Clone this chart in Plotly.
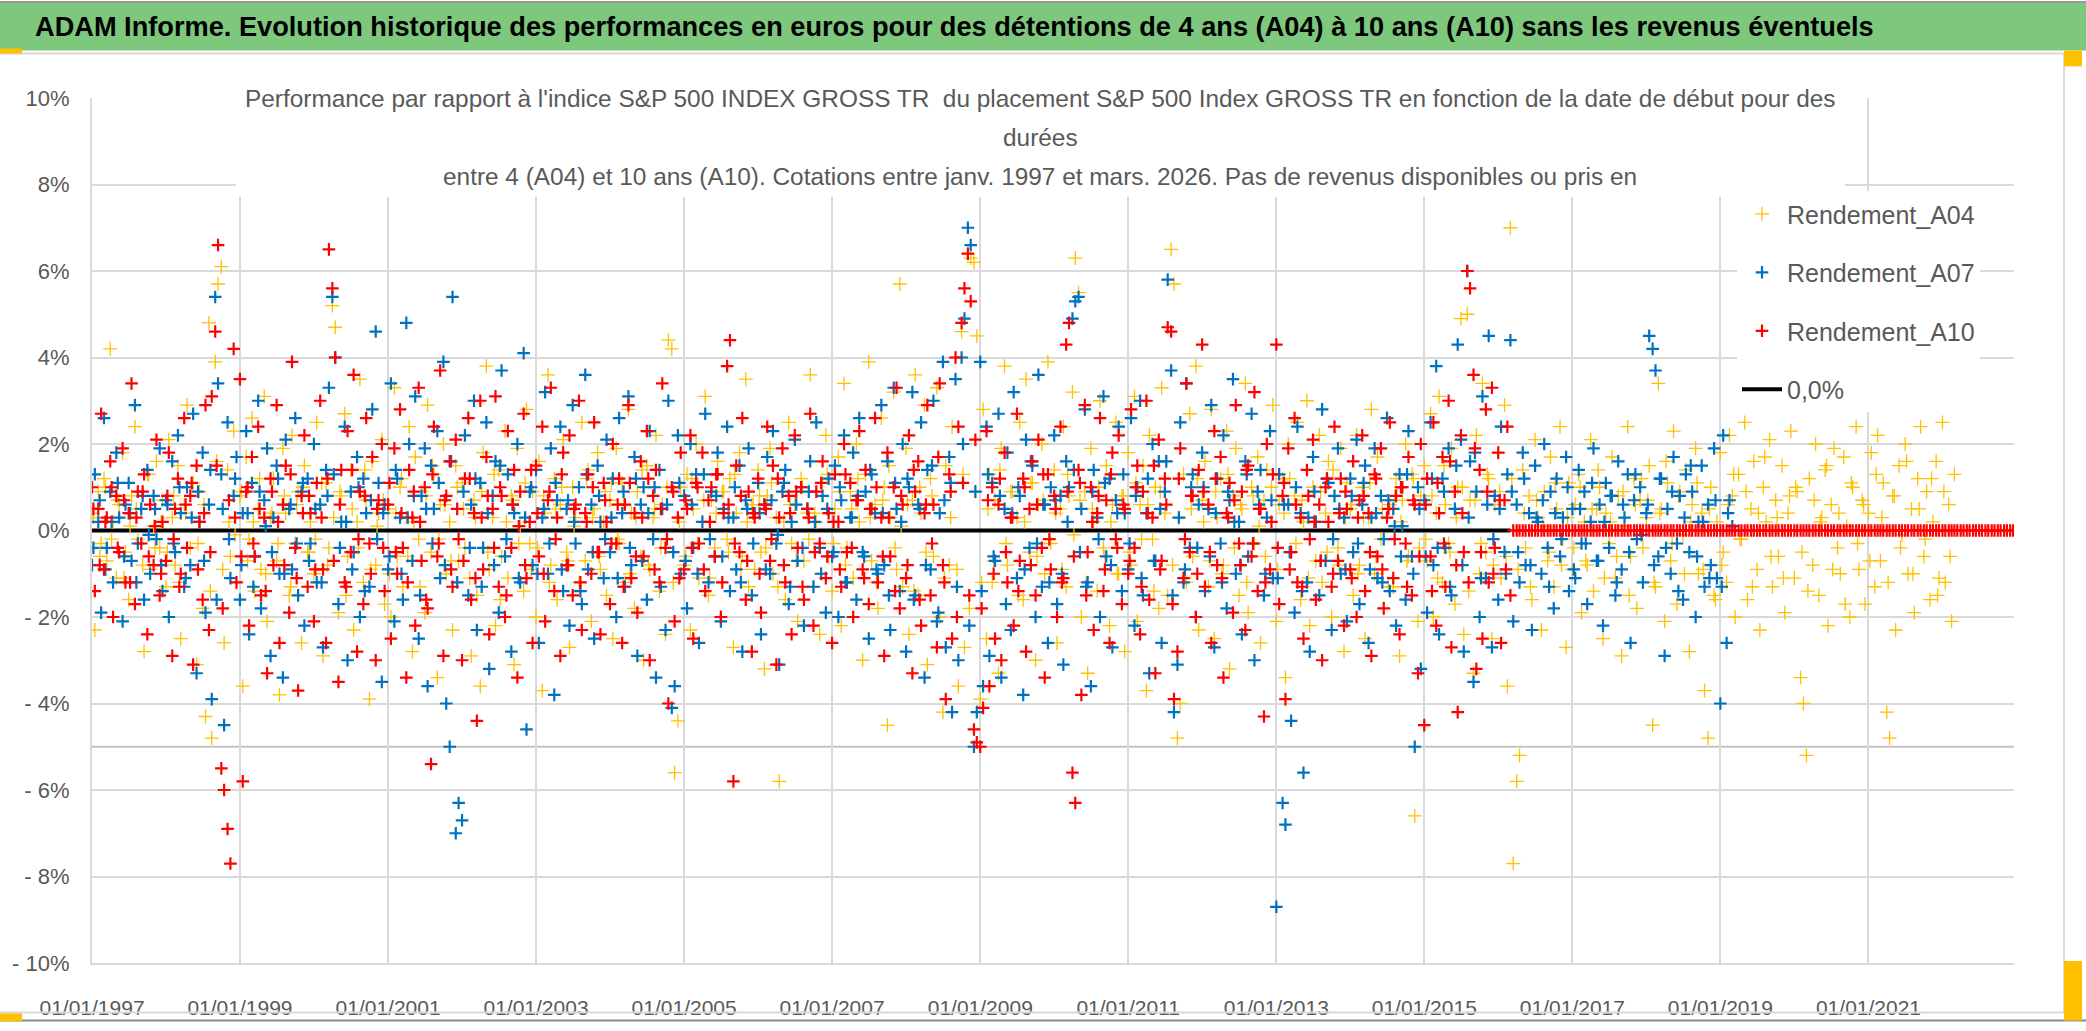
import pandas as pd
import plotly.graph_objects as go

# Relative performance (%) by start date.
# Main readings: 1st and 15th of each month; core readings: 8th of each month.
start_date = '1997-01-01'

rendement_a04 = [
    0.4, -2.3, 0.9, -0.3, 1.2, -0.7, 4.2, 0.2, -1.1, 0.6, 1.8, -0.5, -1.6, 0.8, 2.4, -0.2, 0.5, -2.8, 1.3, -0.9, 0.1, 1.6, -0.4, 0.7,  # 1997
    -1.3, 2.1, 0.3, -0.8, 1.5, -2.5, 0.6, 2.9, -0.4, 1.1, -3.1, 0.9, -1.8, -4.3, 4.8, -4.8, 3.9, 5.7, 6.1, -2.6, 1.4, -0.6, 2.3, -1.2,  # 1998
    0.8, -3.6, 1.7, -0.2, 2.6, -1.4, 0.5, -0.9, 3.1, -2.1, 0.3, 1.2, -0.7, -3.8, 1.9, 0.4, -1.5, 2.2, -0.3, 0.9, -2.6, 1.5, -0.5, 0.2,  # 1999
    -1.0, 2.5, 0.6, -2.9, 1.1, -0.4, 5.2, 4.7, -1.9, 0.8, 2.7, -0.6, 1.4, -2.3, 0.2, 3.5, -1.2, 0.7, -3.9, 1.6, -0.8, 0.4, 2.1, -1.7,  # 2000
    0.5, -2.0, 3.3, -0.6, 1.0, -1.3, 0.3, 2.4, -2.8, 1.7, -0.2, 0.9, -1.9, 2.9, -0.5, 1.3, -3.4, 0.6, 2.0, -1.0, 0.2, -2.3, 1.5, -0.7,  # 2001
    1.1, -0.4, 2.6, -2.9, 0.7, -1.5, -3.6, 1.8, 3.8, -0.9, 0.3, -2.2, 1.4, -0.6, 2.3, -1.1, 0.8, -3.1, 1.9, 0.1, -1.4, 2.8, -0.3, 0.9,  # 2002
    -2.0, 1.6, -3.7, 0.4, 3.6, -0.8, 1.2, -1.6, 0.6, 2.1, -0.5, -2.7, 1.0, 0.3, -1.2, 2.5, -0.7, 1.4, -2.1, 0.5, 1.8, -0.9, 0.2, -1.5,  # 2003
    0.7, -2.5, 1.9, -0.3, 1.1, -1.2, 2.8, 0.4, -1.8, 0.9, -0.6, -3.0, 1.5, -0.9, 0.3, 2.2, -1.4, 0.6, -2.4, 4.4, 4.2, -5.6, -4.4, 1.0,  # 2004
    -0.8, 1.3, -2.3, 0.5, 2.0, -1.1, 0.2, 3.1, -1.5, 0.7, -0.4, 1.6, -2.0, 0.9, -0.2, 1.2, -2.7, 0.4, 1.8, -0.6, 3.5, -1.3, 0.6, -0.9,  # 2005
    1.4, -0.5, -3.2, 0.8, 1.9, -1.0, 0.3, -5.8, 0.9, -1.6, 2.5, -0.3, 0.6, -2.1, 1.2, -0.7, 0.4, 3.6, -1.3, 0.2, -2.4, 1.1, 2.2, -0.6,  # 2006
    -1.4, 0.5, 1.7, -2.2, 3.4, -0.4, 0.9, -1.1, 2.0, 0.2, -3.0, 1.3, 3.9, -0.7, 0.6, -1.8, 2.6, 1.0, -4.5, 0.3, 3.2, -0.9, 5.7, -1.3,  # 2007
    1.9, -2.4, 0.7, 3.6, -1.5, 0.4, 2.9, -3.1, 1.2, -0.6, 3.3, -2.0, -4.2, 1.5, -0.8, 2.4, 4.0, -3.6, 4.6, -2.7, 6.4, 6.3, 6.2, 4.5,  # 2008
    -3.9, 2.8, -2.5, 1.3, -1.2, 0.7, -3.3, 1.9, 3.8, -0.8, 0.9, -2.2, 0.3, 2.5, -1.6, 3.5, -0.5, 1.1, -3.0, 0.6, 2.0, -1.0, 3.9, -0.3,  # 2009
    1.4, -2.6, 0.5, 2.4, -1.3, 0.8, 3.2, 6.3, 5.5, -2.0, 0.9, -3.3, 1.9, 0.2, -1.4, 3.0, -0.4, 1.5, -2.2, 0.6, 2.5, -1.0, 0.8, -2.8,  # 2010
    1.8, -0.8, 3.1, -2.1, 0.6, 1.5, -3.7, 2.2, -0.2, 1.0, -1.8, 3.3, 0.4, -1.5, 6.5, 5.7, -4.8, -4.0, 1.3, -1.2, 2.7, -0.6, 3.8, -2.3,  # 2011
    0.7, 1.6, -1.3, 2.8, -2.5, 0.3, 1.2, -0.8, 2.3, -3.2, 0.8, 1.9, -1.5, 0.5, 3.4, -1.9, 1.0, -0.3, 1.7, -2.6, 0.7, 1.4, -0.9, 2.9,  # 2012
    -2.1, 0.6, 1.2, -3.4, 2.0, -0.5, 0.8, 2.5, -1.6, 0.2, 3.0, -2.2, 1.0, -0.7, 2.2, -1.2, 0.4, 1.6, -2.0, 0.8, -0.4, 1.9, -2.8, 1.1,  # 2013
    0.5, -1.5, 2.2, -0.8, 1.0, -2.5, 0.3, 2.8, -1.0, 1.7, -0.2, -1.8, 2.6, 0.6, -1.3, 1.2, -2.9, 0.7, 2.0, -0.6, 1.3, -6.6, -2.1, 0.8,  # 2014
    1.5, -0.7, 2.7, -2.0, 0.4, 3.1, -1.2, 0.6, -0.3, 1.9, -1.7, 1.0, 4.9, -2.4, 5.0, 0.7, -3.3, 2.2, -1.0, 3.4, -0.5, 1.2, -2.5, 0.6,  # 2015
    1.8, -1.1, 2.9, -3.6, 7.0, -7.7, -5.8, -5.2, 1.4, -0.4, 0.8, -1.6, 2.1, 0.3, -2.3, 0.9, -0.7, 1.7, -1.3, 0.5, 2.4, -0.2, -2.7, 1.1,  # 2016
    -0.9, 0.6, 1.3, -1.9, 0.2, -0.8, 2.1, -1.4, 0.5, 1.0, -2.5, 0.4, -0.3, 1.7, -1.1, 0.8, -2.9, 0.1, 2.4, -0.6, 1.2, -1.8, 0.7, -0.4,  # 2017
    0.3, 1.5, -4.5, -1.3, 3.4, 0.5, -2.1, 1.1, -0.7, 2.3, -1.7, 0.9, -0.1, 1.4, -2.8, 0.6, 1.9, -1.0, 0.4, -3.7, -4.8, 1.0, -1.5, 0.2,  # 2018
    1.8, -0.5, -1.2, 2.2, 0.8, -2.0, 1.3, -0.2, 2.5, -1.6, 0.5, 1.6, -0.9, -2.3, 1.0, 0.2, 2.1, -1.3, 0.7, -0.6, 1.5, -1.9, 0.4, 2.3,  # 2019
    -1.1, 0.9, -3.4, -4.0, -5.2, 1.2, -0.8, 2.0, -1.5, 0.3, 1.4, -2.2, 0.6, 1.9, -0.4, -1.0, 1.7, 0.1, -2.0, 1.0, 2.4, -0.9, 0.7, -1.7,  # 2020
    0.4, 1.8, -1.3, 2.2, -0.7, 1.1, -4.2, -4.8, 0.8, -2.3, 1.5, -0.1, 2.0, -1.0, 0.5, -1.9, 1.2, 2.4, -0.6, 0.9, -1.6, 0.2, 1.6, -1.1,  # 2021
    2.5, -1.2, 0.6, -2.1, 1.3,  # 2022
]
rendement_a04_core = [
    0.3, -0.6, 1.0, -0.2, 0.7, -1.1, 0.1, 0.5, -0.8, 1.3, -0.4, 0.2,  # 1997
    -0.5, 0.8, -1.2, 0.4, 1.1, -0.3, 0.6, -1.4, 1.6, -0.9, 0.2, -0.1,  # 1998
    0.9, -0.7, 0.2, 1.2, -1.0, 0.4, -0.3, 0.8, -1.3, 0.6, 1.0, -0.5,  # 1999
    -0.2, 1.1, -0.8, 0.3, 0.9, -1.5, 0.5, -0.4, 1.4, -0.9, 0.1, 0.7,  # 2000
    -1.0, 0.4, 1.2, -0.6, 0.2, -1.3, 0.8, 1.5, -0.2, 0.6, -0.7, 1.0,  # 2001
    0.5, -1.1, 0.3, 0.9, -0.5, 1.3, -1.6, 0.2, 0.7, -0.3, 1.1, -0.9,  # 2002
    -0.4, 0.8, -1.2, 0.5, 1.0, -0.7, 0.1, -1.4, 1.2, 0.3, -0.6, 0.9,  # 2003
    1.1, -0.2, 0.6, -1.0, 0.3, 1.4, -0.8, 0.5, -0.4, 1.0, -1.2, 0.2,  # 2004
    -0.6, 1.2, -0.3, 0.7, -1.1, 0.4, 0.9, -0.5, 1.3, -0.9, 0.2, 0.6,  # 2005
    0.8, -0.4, 1.1, -1.3, 0.2, 0.6, -0.7, 1.0, -0.2, 0.4, -1.0, 1.3,  # 2006
    -0.3, 0.9, -0.8, 0.5, 1.2, -0.6, 0.3, -1.2, 0.7, 1.5, -0.4, 0.1,  # 2007
    0.6, -1.4, 1.0, -0.5, 0.8, 1.7, -1.1, 0.3, -0.9, 1.3, -1.8, 0.9,  # 2008
    -1.2, 0.5, -0.7, 1.4, -0.3, 0.9, -1.5, 0.2, 1.1, -0.6, 0.7, -0.2,  # 2009
    0.4, -0.9, 1.3, -0.1, 0.7, -1.2, 0.5, 1.0, -0.6, 0.2, -1.0, 0.8,  # 2010
    -0.5, 1.1, -0.2, 0.6, -1.4, 0.9, 1.6, -0.8, 0.3, -1.1, 0.5, 1.2,  # 2011
    0.2, -0.7, 0.9, -1.0, 1.3, -0.4, 0.6, -1.2, 0.8, 0.1, -0.6, 1.0,  # 2012
    -0.9, 0.4, 1.2, -0.3, 0.7, -1.1, 0.2, 0.9, -0.5, 1.4, -0.8, 0.3,  # 2013
    0.6, -1.0, 0.3, 1.1, -0.6, 0.5, -1.3, 0.8, 0.2, -0.7, 1.2, -0.4,  # 2014
    -0.2, 0.8, -1.1, 1.5, -0.5, 0.3, 1.0, -1.4, 0.7, -0.3, 1.3, -0.8,  # 2015
    0.9, -0.6, 1.2, -0.9, 0.4, -1.3, 0.7, 0.1, -0.5, 1.1, -0.8, 0.3,  # 2016
    -0.4, 1.0, -0.7, 0.5, 1.4, -1.1, 0.2, -0.6, 0.9, -1.5, 0.6, 1.2,  # 2017
    0.7, -1.2, 0.4, 1.6, -0.3, 0.8, -1.0, 0.2, 1.1, -0.9, 0.5, -1.6,  # 2018
    -0.8, 0.6, 1.3, -0.2, 0.9, -1.3, 0.4, 1.7, -0.6, 0.3, -1.1, 0.8,  # 2019
    1.0, -0.5, -1.4, 0.7, 0.2, 1.5, -0.9, 0.4, -1.7, 1.1, -0.3, 0.6,  # 2020
    -0.7, 1.3, 0.3, -1.2, 0.8, -0.4, 1.6, -1.0, 0.5, -0.2, 1.2, -1.5,  # 2021
    0.9, -0.6,  # 2022
]

rendement_a07 = [
    -0.8, 1.3, 0.2, -1.9, 2.6, -0.4, 0.9, -1.2, 1.8, 0.3, -2.1, 0.6, 1.1, -0.7, 2.9, -0.3, 0.5, -1.6, 1.4, -1.0, 0.8, -0.2, 1.9, -1.4,  # 1997
    0.7, -2.0, 1.6, -0.5, 2.2, 0.4, -1.3, 1.0, -0.8, 2.7, -3.3, 0.2, 1.8, -1.9, 0.6, -3.9, 5.4, 3.4, 1.3, -4.5, 2.5, -1.1, 0.8, 1.7,  # 1998
    -1.6, 0.4, 2.3, -2.4, 1.1, -0.6, 3.0, -1.8, 0.7, 1.9, -2.9, 0.3, 1.5, -1.0, -3.4, 2.1, 0.5, -0.9, 2.6, -1.5, 0.9, -2.2, 1.2, -0.3,  # 1999
    2.0, -1.2, 0.6, -2.7, 1.4, 3.3, 5.4, 4.0, -1.7, 0.2, 2.4, -3.0, 0.9, -0.5, 1.7, -2.0, 1.2, 0.4, -1.3, 2.8, 4.6, 1.1, -3.5, 0.6,  # 2000
    -0.9, 3.4, -2.1, 1.2, 0.3, -1.6, 4.8, 2.0, -0.7, 3.1, -2.5, 0.8, 1.9, -3.6, 1.5, 0.5, 2.3, -1.1, 3.9, -4.0, -5.0, 5.4, -7.0, -6.3,  # 2001
    -6.7, 2.2, -1.5, 0.6, 3.0, -2.3, 1.1, -0.4, 2.5, -3.2, 0.8, 1.6, -1.9, 3.7, -0.6, 1.3, -2.8, 0.4, 2.0, -1.2, 4.1, -4.6, 0.9, -0.8,  # 2002
    1.4, -2.6, 0.3, 3.2, -1.0, 1.9, -3.8, 0.7, 2.4, -1.4, 0.5, -2.2, 2.9, -0.3, 1.0, -1.7, 3.6, -0.9, 0.6, -2.5, 1.5, 0.2, -1.1, 2.1,  # 2003
    -0.5, 1.2, -2.0, 2.6, 0.4, -1.3, 3.1, -0.8, 1.7, -2.9, 0.6, 1.0, -1.6, 2.3, -0.2, -3.4, 1.4, 0.5, -2.3, 3.0, -4.1, -3.6, 2.2, -1.0,  # 2004
    0.8, -1.8, 2.0, -0.4, 1.3, -2.6, 0.2, 2.7, -1.2, 0.9, -0.6, 1.8, -2.1, 0.5, 2.4, -1.4, 0.3, -0.9, 1.5, -2.8, 0.7, 1.9, -1.5, 0.4,  # 2005
    1.1, -2.4, 0.6, 1.7, -1.0, 2.3, -0.3, -3.1, 0.9, 1.4, -1.7, 0.2, 2.1, -0.7, 1.0, -2.2, 0.5, 1.6, -1.3, 2.5, -0.4, 0.8, -1.9, 1.2,  # 2006
    -0.6, 1.5, -2.0, 0.7, 2.2, -1.2, 0.3, 1.8, -1.6, 2.6, -0.5, 0.9, -2.5, 1.3, 0.4, -1.0, 2.9, -0.8, 1.6, -2.3, 3.3, 0.5, -1.4, 2.0,  # 2007
    -2.8, 1.0, 3.2, -1.5, 0.6, 2.5, -3.4, 1.4, -0.9, 3.0, -2.1, 0.4, 3.9, -2.7, 1.7, -4.2, 3.5, -3.0, 4.0, 4.9, 7.0, 6.6, -5.0, -4.2,  # 2008
    3.9, -3.6, 2.4, -2.9, 1.1, -0.7, 2.7, -3.4, 0.5, 1.8, -2.3, 3.2, -1.1, 0.8, -3.8, 2.1, -0.4, 1.5, -2.0, 3.6, -1.3, 0.6, -2.6, 1.0,  # 2009
    2.2, -1.7, 0.8, -3.1, 1.6, 1.0, 4.9, 5.3, 5.4, 0.5, 2.8, -1.2, -3.6, 1.4, 0.3, -2.0, 3.1, -0.6, 1.2, -2.7, 0.7, 2.4, -1.4, 0.4,  # 2010
    -0.9, 2.6, -2.2, 1.0, 3.0, -1.5, 0.4, -3.3, 2.0, -0.7, 1.6, -2.6, 0.9, 5.8, 3.7, -4.2, -3.1, 2.5, -1.2, 3.4, -0.4, 1.3, -2.0, 0.6,  # 2011
    1.8, -1.4, 0.5, 2.9, -2.7, 1.2, -0.3, 2.2, -1.8, 0.7, 3.5, -1.0, 0.2, -2.4, 1.6, -0.6, 2.7, -3.0, 0.9, 1.4, -1.5, 0.3, 2.3, -1.1,  # 2012
    -8.7, 1.3, -6.3, -6.8, 0.6, -4.4, -1.9, 2.4, 0.4, -5.6, -1.2, -2.8, 1.7, 0.2, -1.5, 2.8, -0.7, 1.1, -2.3, 0.8, 1.9, -1.0, 0.3, -2.1,  # 2013
    1.2, -0.5, 2.1, -1.7, 0.6, 1.5, -2.6, 0.3, 1.9, -1.1, 0.8, -0.2, 2.6, -1.4, 0.5, -2.2, 1.3, 0.1, -1.6, 2.3, -0.6, -5.0, 1.0, -3.2,  # 2014
    0.7, -1.9, 2.5, -0.8, 3.8, -2.4, 1.2, -0.4, 1.9, -1.5, 0.5, 4.3, 2.1, -2.8, 6.0, 1.6, -3.5, 0.9, -2.0, 3.1, -1.1, 4.5, -2.7, 0.8,  # 2015
    -1.6, 2.4, -0.5, 1.3, 4.4, -2.1, 0.6, -1.2, 1.8, -0.8, 0.4, -2.3, 1.5, 0.2, -1.0, 2.0, -0.4, 0.9, -1.8, 1.2, -0.6, 0.3, 1.7, -1.4,  # 2016
    0.5, -1.1, 1.4, -0.3, 0.9, -1.7, 0.2, 1.9, -0.7, 0.6, -2.2, 1.1, -0.4, 0.8, -1.5, 1.6, -0.9, 0.3, 1.3, -2.6, 0.7, -0.2, 1.0, -1.2,  # 2017
    0.4, 4.5, 4.2, 3.7, -0.6, 1.2, -2.9, 0.5, -1.0, 1.7, -0.3, 0.8, -1.6, 1.3, -0.5, 0.9, -2.0, 0.2, 1.5, -1.3, 0.6, -0.8, 1.9, -1.1,  # 2018
    -4.0, 2.2, -2.6, 0.7, 0.1,  # 2019
]
rendement_a07_core = [
    -0.4, 0.7, -0.9, 0.2, 1.1, -0.6, 0.4, -1.2, 0.8, -0.1, 0.5, -0.8,  # 1997
    0.6, -0.3, 1.0, -1.1, 0.3, 0.9, -0.7, 1.4, -1.6, 0.5, -0.2, 1.2,  # 1998
    -0.8, 0.4, -1.3, 0.9, 0.1, -0.5, 1.2, -1.0, 0.6, -0.3, 1.1, -0.7,  # 1999
    0.5, -1.2, 0.8, 1.3, -0.4, 0.2, -0.9, 1.0, -1.4, 0.7, -0.2, 0.4,  # 2000
    -0.6, 1.4, -1.0, 0.3, 0.8, -1.5, 0.5, -0.3, 1.1, -0.8, 1.6, -1.2,  # 2001
    0.9, -0.4, 1.2, -1.3, 0.4, -0.8, 1.5, -0.2, 0.6, -1.1, 0.3, 1.0,  # 2002
    -1.0, 0.5, -0.3, 1.1, -0.9, 0.7, 0.2, -1.4, 1.3, -0.5, 0.8, -0.2,  # 2003
    0.3, -1.1, 0.9, -0.4, 1.2, -0.7, 0.4, 1.0, -1.3, 0.6, -0.5, 1.1,  # 2004
    -0.7, 0.6, -1.0, 1.3, -0.2, 0.8, -0.6, 0.3, 1.0, -1.2, 0.5, -0.3,  # 2005
    0.4, -0.9, 0.7, -0.1, 1.1, -1.3, 0.6, -0.4, 0.9, 0.2, -1.0, 0.5,  # 2006
    -0.5, 1.0, -1.2, 0.3, 0.8, -0.6, 1.4, -0.9, 0.4, -1.5, 1.1, 0.2,  # 2007
    1.2, -1.6, 0.5, -0.8, 1.5, -1.9, 0.7, 1.1, -1.3, 2.0, -2.2, 0.9,  # 2008
    -1.4, 1.3, -0.6, 0.8, -1.7, 0.4, 1.0, -0.9, 1.6, -0.3, 0.6, -1.2,  # 2009
    0.7, -1.0, 0.2, 1.4, -0.5, -1.3, 0.9, -0.2, 1.1, -0.8, 0.4, 1.3,  # 2010
    -0.3, 0.8, -1.1, 1.2, -0.7, 0.5, 1.6, -1.5, 0.3, -0.9, 1.0, -0.4,  # 2011
    1.0, -0.6, 0.4, -1.2, 0.9, 0.2, -0.8, 1.3, -0.3, 0.6, -1.0, 0.7,  # 2012
    -1.1, 0.6, -0.5, 1.0, -1.4, 0.3, 0.9, -0.7, 1.2, -0.2, 0.5, -0.9,  # 2013
    0.8, -0.3, 1.1, -0.9, 0.4, -1.2, 0.7, 0.1, -0.6, 1.3, -1.0, 0.5,  # 2014
    -0.6, 1.2, -0.4, 0.9, -1.3, 1.5, -0.8, 0.3, 1.8, -1.1, 0.6, -0.2,  # 2015
    0.5, -1.0, 0.9, -0.5, 1.2, -0.8, 0.3, 0.7, -1.3, 0.4, -0.2, 1.0,  # 2016
    -0.9, 0.5, -0.3, 1.1, -0.7, 0.2, 0.8, -1.2, 0.6, -0.5, 1.3, -0.1,  # 2017
    0.6, -0.8, 1.2, -0.4, 0.9, -1.4, 0.3, 1.5, -0.6, 0.2, -1.1, 0.7,  # 2018
    -1.3, 0.4,  # 2019
]

rendement_a10 = [
    1.0, -1.4, 0.5, 2.7, -0.9, 0.3, 1.6, -2.0, 0.8, -0.5, 1.9, -1.2, 0.4, 3.4, -1.7, 0.9, -0.3, 1.3, -2.4, 0.6, -0.8, 2.1, -1.5, 0.2,  # 1997
    -0.7, 1.8, -2.9, 0.5, 1.2, -1.0, 2.6, -0.4, 0.8, -3.1, 1.5, 0.2, -1.6, 2.9, -2.3, 3.1, 4.6, 6.6, -5.5, -6.0, -6.9, -7.7, 4.2, -1.2,  # 1998
    3.5, -5.8, 0.9, -2.2, 1.7, -0.6, 2.4, -1.5, 0.3, -3.3, 1.2, -0.8, 2.9, -2.6, 0.6, 1.5, -1.9, 3.9, -0.4, -3.7, 0.8, 2.2, -1.3, 0.4,  # 1999
    -2.1, 1.1, 3.0, -0.9, -2.6, 6.5, 5.6, 4.0, -3.5, 1.4, -1.2, 2.3, -0.5, 3.6, -2.8, 0.9, -1.7, 2.6, -0.3, 1.7, -3.0, 0.7, 2.0, -1.4,  # 2000
    0.6, -2.5, 1.9, -1.0, 2.8, -0.4, -3.4, 1.4, 0.3, -2.2, 3.3, -0.7, 1.0, -1.8, -5.4, 2.4, -0.6, 3.7, -2.9, 0.8, 1.6, -1.3, 2.1, -0.2,  # 2001
    -3.0, 1.2, 2.6, -1.6, 0.4, -4.4, 3.0, -0.9, 1.7, -2.4, 0.5, 3.1, -1.3, 0.8, -2.0, 2.3, -0.4, 1.4, -3.4, 0.9, 2.7, -1.1, 0.2, -2.6,  # 2002
    1.5, -0.6, 2.4, -2.1, 0.7, 3.3, -1.4, 0.3, -2.9, 1.8, -0.8, 2.2, -1.5, 0.6, 3.0, -2.3, 0.4, 1.3, -1.0, 2.5, -0.5, -2.4, 1.1, 0.2,  # 2003
    -1.7, 2.0, -0.3, 1.2, -2.6, 0.6, 2.9, -1.1, 0.4, -1.9, 1.6, -0.6, 2.3, -3.0, 0.8, 1.4, -1.2, 3.4, -0.4, -4.0, 1.0, -2.1, 0.3, 1.8,  # 2004
    -0.9, 0.5, 2.2, -2.5, 1.1, -0.3, 1.8, -1.4, 0.7, 1.0, -0.6, 1.3, -2.0, 0.4, 3.8, 4.4, -5.8, 1.5, -0.5, 2.6, -1.6, 0.9, -2.8, 0.3,  # 2005
    1.2, -1.9, 0.6, 2.4, -0.7, 1.5, -3.1, 0.3, 1.9, -1.2, 0.8, -2.4, 2.2, -0.4, 1.0, -1.6, 0.5, 2.7, -2.2, 0.9, -0.3, 1.6, -1.1, 0.4,  # 2006
    -2.6, 1.3, 0.2, -1.3, 2.0, -0.5, 1.1, -2.0, 0.7, 2.3, -0.9, 1.4, -1.7, 0.5, 2.6, -1.2, 0.3, -2.9, 1.8, -0.6, 1.0, 3.3, -1.8, 0.6,  # 2007
    -1.1, 2.2, -3.3, 0.9, 1.6, -2.2, 0.4, 2.9, -1.5, 0.6, -2.7, 3.4, -0.8, -3.9, 1.3, -2.5, 4.0, 2.4, 4.8, 5.6, 6.4, 5.3, -4.6, -4.9,  # 2008
    -5.0, -4.1, 2.3, -3.6, 1.0, -2.5, 0.6, -3.0, 1.8, -1.2, 0.3, -2.2, 2.7, -0.7, 1.2, -2.8, 0.5, 1.6, -1.5, 2.1, -0.4, -3.4, 1.3, -0.9,  # 2009
    0.8, -2.0, 2.4, -1.1, 4.3, 4.8, -5.6, -6.3, 1.4, -3.8, 2.9, -0.5, 1.0, -2.3, 0.4, 2.6, -1.4, 0.7, -2.6, 1.8, -0.2, 2.2, -1.7, 0.5,  # 2010
    -1.0, 2.8, -0.4, 1.5, -2.4, 0.9, 3.0, -1.6, 0.3, -3.3, 2.1, -0.7, 1.2, 4.7, 4.6, -3.9, -2.8, 1.9, -1.1, 3.4, -0.5, 0.8, -2.0, 1.4,  # 2011
    4.3, -1.3, 0.6, -2.6, 2.3, -0.8, 1.7, -3.4, 0.4, 1.1, -1.9, 2.9, -0.3, 0.9, -2.3, 1.5, -0.6, 3.2, -1.4, 0.5, -4.3, 2.0, -0.9, 1.3,  # 2012
    4.3, -1.7, 0.8, -3.9, 1.9, -0.5, 2.6, -1.2, 0.3, -2.5, 1.4, -0.2, 2.1, -1.6, 0.6, -3.0, 1.0, 0.2, -1.3, 2.4, -0.7, 1.2, -2.2, 0.5,  # 2013
    -0.9, 1.6, -2.0, 0.7, 2.2, -1.4, 0.4, -2.9, 1.3, -0.6, 1.9, -1.8, 0.3, 2.5, -1.1, 0.8, -2.4, 1.0, -0.3, 1.7, -1.5, 0.6, -3.3, 2.0,  # 2014
    -4.5, 1.2, -0.6, 2.5, -2.2, 0.4, 1.7, -1.3, 3.0, -2.7, 0.9, -4.2, 2.2, -0.5, 6.0, 5.6, 3.6, -3.2, 1.4, -2.5, 2.8, -1.2, 3.3, -0.4,  # 2015
    1.8, -2.6, 0.7, 2.4, -1.5, 0, 0, 0, 0, 0, 0, 0, 0, 0, 0, 0, 0, 0, 0, 0, 0, 0, 0, 0,  # 2016
    0, 0, 0, 0, 0, 0, 0, 0, 0, 0, 0, 0, 0, 0, 0, 0, 0, 0, 0, 0, 0, 0, 0, 0,  # 2017
    0, 0, 0, 0, 0, 0, 0, 0, 0, 0, 0, 0, 0, 0, 0, 0, 0, 0, 0, 0, 0, 0, 0, 0,  # 2018
    0, 0, 0, 0, 0, 0, 0, 0, 0, 0, 0, 0, 0, 0, 0, 0, 0, 0, 0, 0, 0, 0, 0, 0,  # 2019
    0, 0, 0, 0, 0, 0, 0, 0, 0, 0, 0, 0, 0, 0, 0, 0, 0, 0, 0, 0, 0, 0, 0, 0,  # 2020
    0, 0, 0, 0, 0, 0, 0, 0, 0, 0, 0, 0, 0, 0, 0, 0, 0, 0, 0, 0, 0, 0, 0, 0,  # 2021
    0, 0, 0, 0, 0, 0, 0, 0, 0, 0, 0, 0, 0, 0, 0, 0, 0, 0, 0, 0, 0, 0, 0, 0,  # 2022
]
rendement_a10_core = [
    0.5, -0.8, 0.2, 1.0, -0.4, 0.7, -1.2, 0.3, 0.9, -0.6, 0.1, -1.0,  # 1997
    0.8, -0.2, -1.3, 0.6, 1.1, -0.9, 0.4, -0.5, 1.5, -1.8, 0.7, 0.3,  # 1998
    -0.6, 1.0, -0.3, 0.5, -1.4, 0.9, 0.2, -0.8, 1.3, -1.1, 0.4, 0.8,  # 1999
    -0.9, 0.3, 1.2, -0.7, 0.6, -1.3, 1.4, -0.2, 0.8, -1.0, 0.5, -0.4,  # 2000
    1.1, -0.5, 0.4, -1.2, 0.9, 0.2, -1.6, 1.3, -0.3, 0.7, -0.9, 0.5,  # 2001
    -0.7, 1.2, -1.1, 0.3, 0.8, -0.4, 1.0, -1.5, 0.6, 0.1, -0.8, 1.4,  # 2002
    0.4, -1.0, 0.9, -0.2, 1.3, -0.8, 0.5, -1.2, 0.2, 1.0, -0.5, 0.7,  # 2003
    -0.3, 0.6, -1.3, 1.1, -0.6, 0.3, 1.2, -0.9, 0.5, -0.2, 0.9, -1.1,  # 2004
    0.7, -0.4, 1.0, -0.9, 0.2, 1.3, -1.2, 0.6, -0.3, 0.8, -0.7, 0.4,  # 2005
    -1.0, 0.5, -0.2, 1.2, -0.8, 0.4, 0.9, -1.3, 0.3, -0.5, 1.1, -0.6,  # 2006
    0.2, -0.9, 1.3, -0.4, 0.7, -1.1, 0.5, 1.0, -0.6, 0.3, -1.4, 0.8,  # 2007
    -0.8, 1.4, -1.6, 0.6, -0.3, 1.7, -1.2, 0.9, -2.0, 1.1, -1.5, 2.1,  # 2008
    -1.8, 0.7, -1.0, 1.2, -0.5, 0.3, -1.4, 1.0, -0.8, 0.6, 1.3, -0.2,  # 2009
    0.5, -1.2, 0.9, -0.6, 1.1, -1.5, 0.2, 0.8, -0.9, 1.3, -0.4, 0.6,  # 2010
    -0.7, 1.0, -1.3, 0.4, 1.5, -0.9, 0.6, -1.7, 1.2, -0.2, 0.8, -1.0,  # 2011
    0.9, -0.5, 1.2, -1.1, 0.3, 0.7, -0.8, 1.4, -0.3, 0.5, -1.2, 0.2,  # 2012
    -0.4, 1.1, -0.9, 0.6, -1.3, 0.8, 0.2, -0.7, 1.2, -1.0, 0.4, 0.9,  # 2013
    -1.1, 0.3, 0.8, -0.5, 1.2, -0.9, 0.5, -0.2, 1.0, -1.3, 0.7, -0.6,  # 2014
    0.6, -1.4, 1.1, -0.3, 1.6, -0.8, 0.4, -1.2, 1.9, -0.5, 0.9, -1.0,  # 2015
    0.7, -0.9,  # 2016
]

zero_line_dates = ['1997-01-01', '2016-03-01']
zero_line_values = [0.0, 0.0]

y_ticks = [10, 8, 6, 4, 2, 0, -2, -4, -6, -8, -10]
y_tick_labels = ['10%', '8%', '6%', '4%', '2%', '0%', '- 2%', '- 4%', '- 6%', '- 8%', '- 10%']

series_names = ['Rendement_A04', 'Rendement_A07', 'Rendement_A10', '0,0%']

banner_text = ("ADAM Informe. Evolution historique des performances en euros pour des "
               "détentions de 4 ans (A04) à 10 ans (A10) sans les revenus éventuels")
subtitle_lines = [
    "Performance par rapport à l'indice S&P 500 INDEX GROSS TR  du placement S&P 500 Index GROSS TR "
    "en fonction de la date de début pour des",
    "durées",
    "entre 4 (A04) et 10 ans (A10). Cotations entre janv. 1997 et mars. 2026. "
    "Pas de revenus disponibles ou pris en",
]

# Page geometry (pixels)
W, H = 2086, 1031
M_L, M_R, M_T, M_B = 92, 72, 98, 59
FONT = 'Liberation Sans, Arial, sans-serif'
GREY_TXT = '#595959'
GRID = '#d9d9d9'


def px_x(px):
    return (px - M_L) / (W - M_L - M_R)


def px_y(py):
    return (H - M_B - py) / (H - M_T - M_B)


def series_xy(values, core):
    # 1st/15th readings followed by the 8th-of-month readings
    d_main = pd.date_range(start_date, periods=len(values), freq='SMS')
    d_core = pd.date_range(start_date, periods=len(core), freq='MS') + pd.Timedelta(days=7)
    return list(d_main) + list(d_core), list(values) + list(core)


fig = go.Figure()

# the 0 % reference line sits under the markers, but comes last in the legend
fig.add_trace(go.Scatter(
    x=pd.to_datetime(zero_line_dates), y=zero_line_values, mode='lines',
    name=series_names[3], legendgroup=series_names[3], legendrank=4,
    line=dict(color='black', width=4),
))

styles = [
    (rendement_a04, rendement_a04_core, '#FFC000', 10, 1.3),
    (rendement_a07, rendement_a07_core, '#0070C0', 9, 2.2),
    (rendement_a10, rendement_a10_core, '#FF0000', 9, 2.2),
]
for rank, ((values, core, color, size, lw), name) in enumerate(zip(styles, series_names), start=1):
    xs, ys = series_xy(values, core)
    fig.add_trace(go.Scatter(
        x=xs, y=ys, mode='markers', name=name, legendgroup=name, legendrank=rank,
        marker=dict(symbol='cross-thin', size=size, color=color,
                    line=dict(width=lw, color=color)),
    ))

shapes = [
    # green banner and frame
    dict(type='rect', xref='paper', yref='paper', x0=px_x(0), x1=px_x(W), y0=px_y(0), y1=px_y(50),
         fillcolor='#7DC87D', line=dict(width=0), layer='above'),
    dict(type='line', xref='paper', yref='paper', x0=px_x(0), x1=px_x(W), y0=px_y(1), y1=px_y(1),
         line=dict(color='#9a9a9a', width=2), layer='above'),
    dict(type='line', xref='paper', yref='paper', x0=px_x(0), x1=px_x(2064), y0=px_y(53), y1=px_y(53),
         line=dict(color=GRID, width=2), layer='above'),
    dict(type='line', xref='paper', yref='paper', x0=px_x(2064), x1=px_x(2064), y0=px_y(53), y1=px_y(1022),
         line=dict(color=GRID, width=2), layer='above'),
    dict(type='line', xref='paper', yref='paper', x0=px_x(0), x1=px_x(2064), y0=px_y(1022), y1=px_y(1022),
         line=dict(color=GRID, width=2), layer='above'),
    dict(type='line', xref='paper', yref='paper', x0=px_x(0), x1=px_x(W), y0=px_y(1030), y1=px_y(1030),
         line=dict(color='#8a8a8a', width=2), layer='above'),
    # selection handles
    dict(type='rect', xref='paper', yref='paper', x0=px_x(0), x1=px_x(22), y0=px_y(48), y1=px_y(53),
         fillcolor='#FFC000', line=dict(width=0), layer='above'),
    dict(type='rect', xref='paper', yref='paper', x0=px_x(2064), x1=px_x(2082), y0=px_y(50), y1=px_y(66),
         fillcolor='#FFC000', line=dict(width=0), layer='above'),
    dict(type='rect', xref='paper', yref='paper', x0=px_x(2064), x1=px_x(2082), y0=px_y(970), y1=px_y(1030),
         fillcolor='#FFC000', line=dict(width=0), layer='above'),
    dict(type='rect', xref='paper', yref='paper', x0=px_x(0), x1=px_x(22), y0=px_y(1023), y1=px_y(1031),
         fillcolor='#FFC000', line=dict(width=0), layer='above'),
    # white boxes behind the chart title and the legend
    dict(type='rect', xref='paper', yref='paper', x0=px_x(236), x1=px_x(1845), y0=px_y(75), y1=px_y(198),
         fillcolor='white', line=dict(width=0), layer='above'),
    dict(type='rect', xref='paper', yref='paper', x0=px_x(1702), x1=1, y0=px_y(180), y1=px_y(422),
         fillcolor='white', line=dict(width=0), layer='between'),
    # extra horizontal line at -5 %
    dict(type='line', xref='paper', yref='y', x0=0, x1=1, y0=-5, y1=-5,
         line=dict(color='#c4c4c4', width=2), layer='between'),
]

annotations = [
    dict(text=banner_text, xref='paper', yref='paper', x=px_x(33), y=px_y(26),
         xanchor='left', yanchor='middle', showarrow=False,
         font=dict(family=FONT, size=27.2, color='black', weight='bold')),
]
for line, py in zip(subtitle_lines, [98, 138, 177]):
    annotations.append(dict(text=line, xref='paper', yref='paper', x=px_x(1040), y=px_y(py),
                            xanchor='center', yanchor='middle', showarrow=False,
                            font=dict(family=FONT, size=24.4, color=GREY_TXT)))

fig.update_layout(
    width=W, height=H,
    margin=dict(l=M_L, r=M_R, t=M_T, b=M_B, pad=0),
    paper_bgcolor='white', plot_bgcolor='white',
    font=dict(family=FONT, color=GREY_TXT),
    shapes=shapes, annotations=annotations,
    showlegend=True,
    legend=dict(x=px_x(1737), y=px_y(192), xanchor='left', yanchor='top',
                bgcolor='white', font=dict(family=FONT, size=25, color=GREY_TXT),
                tracegroupgap=23, itemwidth=40),
    xaxis=dict(type='date', range=['1997-01-01', '2022-12-20'],
               tick0='1997-01-01', dtick='M24', tickformat='%d/%m/%Y',
               showgrid=True, gridcolor=GRID, gridwidth=2,
               showline=True, linecolor=GRID, linewidth=2,
               zeroline=False, ticks='', ticklabelstandoff=25,
               tickfont=dict(family=FONT, size=21, color=GREY_TXT)),
    yaxis=dict(range=[-10, 10], tickvals=y_ticks, ticktext=y_tick_labels,
               showgrid=True, gridcolor=GRID, gridwidth=2,
               showline=True, linecolor=GRID, linewidth=2,
               zeroline=False, ticks='', ticklabelstandoff=16,
               tickfont=dict(family=FONT, size=22, color=GREY_TXT)),
)

fig.write_html("out.html", config={'displayModeBar': False},
               post_script="document.body.style.margin='0';document.body.style.overflow='hidden';")
